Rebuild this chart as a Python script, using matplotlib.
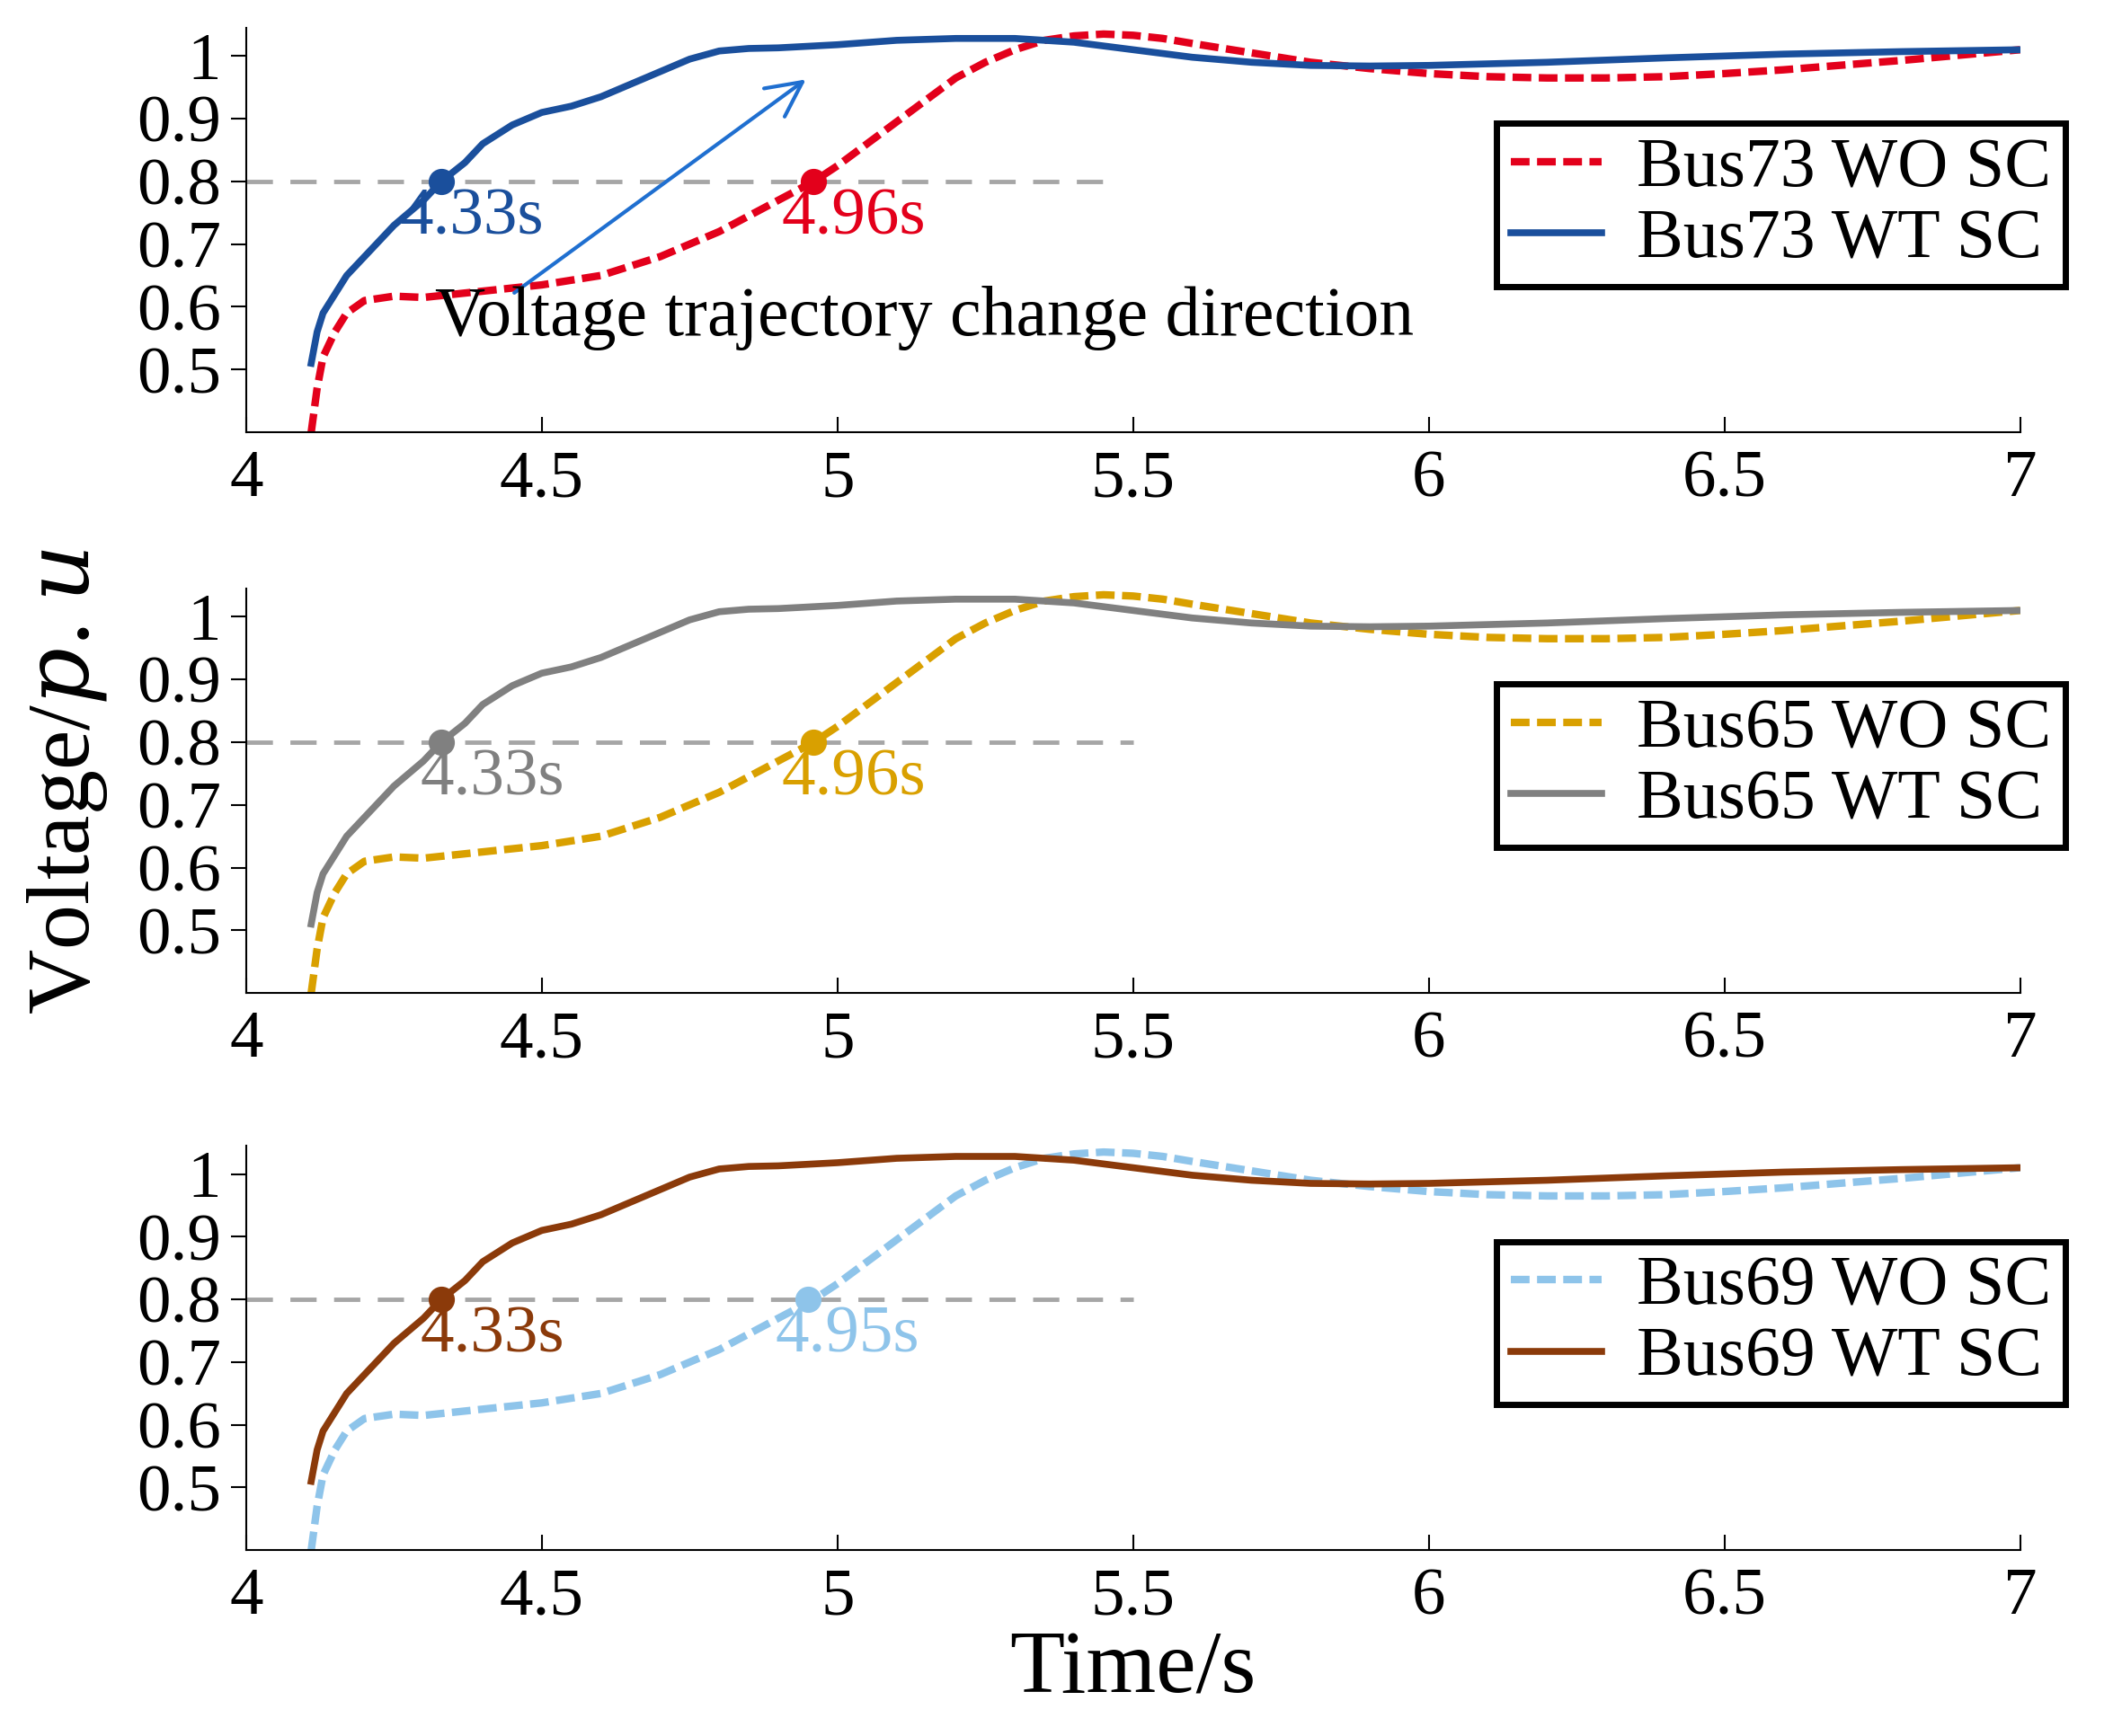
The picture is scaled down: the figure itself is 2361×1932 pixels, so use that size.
import numpy as np
import matplotlib.pyplot as plt

# time samples
t_wt = [4.11, 4.12, 4.13, 4.15, 4.17, 4.2, 4.25, 4.3, 4.33, 4.37, 4.4, 4.45, 4.5, 4.55,
        4.6, 4.65, 4.7, 4.75, 4.8, 4.85, 4.9, 5.0, 5.1, 5.2, 5.3, 5.4, 5.5, 5.6, 5.7,
        5.8, 5.9, 6.0, 6.2, 6.4, 6.6, 6.8, 7.0]
v_wt = [0.51, 0.56, 0.59, 0.62, 0.65, 0.68, 0.73, 0.77, 0.80, 0.83, 0.86, 0.89, 0.91,
        0.92, 0.935, 0.955, 0.975, 0.995, 1.008, 1.012, 1.013, 1.018, 1.025, 1.028,
        1.028, 1.022, 1.01, 0.998, 0.99, 0.985, 0.984, 0.985, 0.99, 0.997, 1.003,
        1.007, 1.01]
t_wo = [4.11, 4.12, 4.13, 4.15, 4.17, 4.2, 4.25, 4.3, 4.4, 4.5, 4.6, 4.7, 4.8, 4.9,
        4.96, 5.0, 5.05, 5.1, 5.15, 5.2, 5.25, 5.3, 5.35, 5.4, 5.45, 5.5, 5.55, 5.6,
        5.7, 5.8, 5.9, 6.0, 6.1, 6.2, 6.3, 6.4, 6.5, 6.6, 6.8, 7.0]
v_wo = [0.40, 0.47, 0.52, 0.56, 0.59, 0.61, 0.617, 0.615, 0.625, 0.635, 0.65, 0.68,
        0.72, 0.77, 0.80, 0.825, 0.86, 0.895, 0.93, 0.965, 0.99, 1.01, 1.025, 1.032,
        1.035, 1.033, 1.028, 1.02, 1.005, 0.99, 0.98, 0.972, 0.967, 0.965, 0.965,
        0.967, 0.972, 0.978, 0.993, 1.01]

buses = ["Bus73", "Bus65", "Bus69"]
wo_colors = ["#e3001b", "#d9a000", "#8ec4ea"]
wt_colors = ["#1a4f9c", "#808080", "#8b3a0a"]
wt_cross = [4.33, 4.33, 4.33]
wo_cross = [4.96, 4.96, 4.95]
ref_end = [5.45, 5.5, 5.5]

plt.rcParams["font.family"] = "Liberation Serif"
plt.rcParams["mathtext.fontset"] = "dejavuserif"

fig = plt.figure(figsize=(23.61, 19.32), dpi=100)
tops = [0.984, 0.661, 0.340]
h = 0.233
axes = []
for i, bus in enumerate(buses):
    ax = fig.add_axes([0.116, tops[i] - h, 0.836, h])
    axes.append(ax)
    ax.plot([4, ref_end[i]], [0.8, 0.8], color="#a6a6a6", lw=3.5, ls=(0, (6, 4)))
    l1, = ax.plot(t_wo, v_wo, color=wo_colors[i], lw=6, ls=(0, (2.5, 1)),
                  label=f"{bus} WO SC")
    l2, = ax.plot(t_wt, v_wt, color=wt_colors[i], lw=5.5, label=f"{bus} WT SC")
    ax.plot(wt_cross[i], 0.8, "o", color=wt_colors[i], ms=20)
    ax.plot(wo_cross[i], 0.8, "o", color=wo_colors[i], ms=20)
    ax.text(wt_cross[i] - 0.07 if i == 0 else wt_cross[i] - 0.035, 0.79,
            f"{wt_cross[i]:.2f}s", color=wt_colors[i], fontsize=54, va="top")
    ax.text(wo_cross[i] - 0.055, 0.79, f"{wo_cross[i]:.2f}s", color=wo_colors[i],
            fontsize=54, va="top")
    ax.set_xlim(4, 7)
    ax.set_ylim(0.4, 1.045)
    ax.set_xticks([4, 4.5, 5, 5.5, 6, 6.5, 7])
    ax.set_xticklabels(["4", "4.5", "5", "5.5", "6", "6.5", "7"])
    ax.set_yticks([0.5, 0.6, 0.7, 0.8, 0.9, 1.0])
    ax.set_yticklabels(["0.5", "0.6", "0.7", "0.8", "0.9", "1"])
    ax.tick_params(labelsize=54, direction="in", length=12, width=1.5, pad=14)
    ax.tick_params(axis="y", direction="out", pad=8)
    for s in ["top", "right"]:
        ax.spines[s].set_visible(False)
    for s in ["left", "bottom"]:
        ax.spines[s].set_linewidth(1.5)
    leg = ax.legend(handles=[l1, l2], loc="upper right",
                    bbox_to_anchor=(1.045, 0.85), fontsize=56, fancybox=False,
                    edgecolor="black", framealpha=1, handlelength=1.3,
                    borderpad=0.2, labelspacing=0.1, handletextpad=0.5)
    leg.get_frame().set_linewidth(5)

axes[0].annotate("", xy=(4.95, 0.965), xytext=(4.45, 0.62),
                 arrowprops=dict(arrowstyle="->", color="#1f6fd0", lw=3,
                                 mutation_scale=70))
axes[0].text(4.32, 0.555, "Voltage trajectory change direction", fontsize=56)
fig.text(0.012, 0.55, "Voltage/$p.u$", rotation=90, fontsize=72, va="center")
fig.text(0.534, 0.025, "Time/s", fontsize=72, ha="center")
fig.savefig("out.png")
